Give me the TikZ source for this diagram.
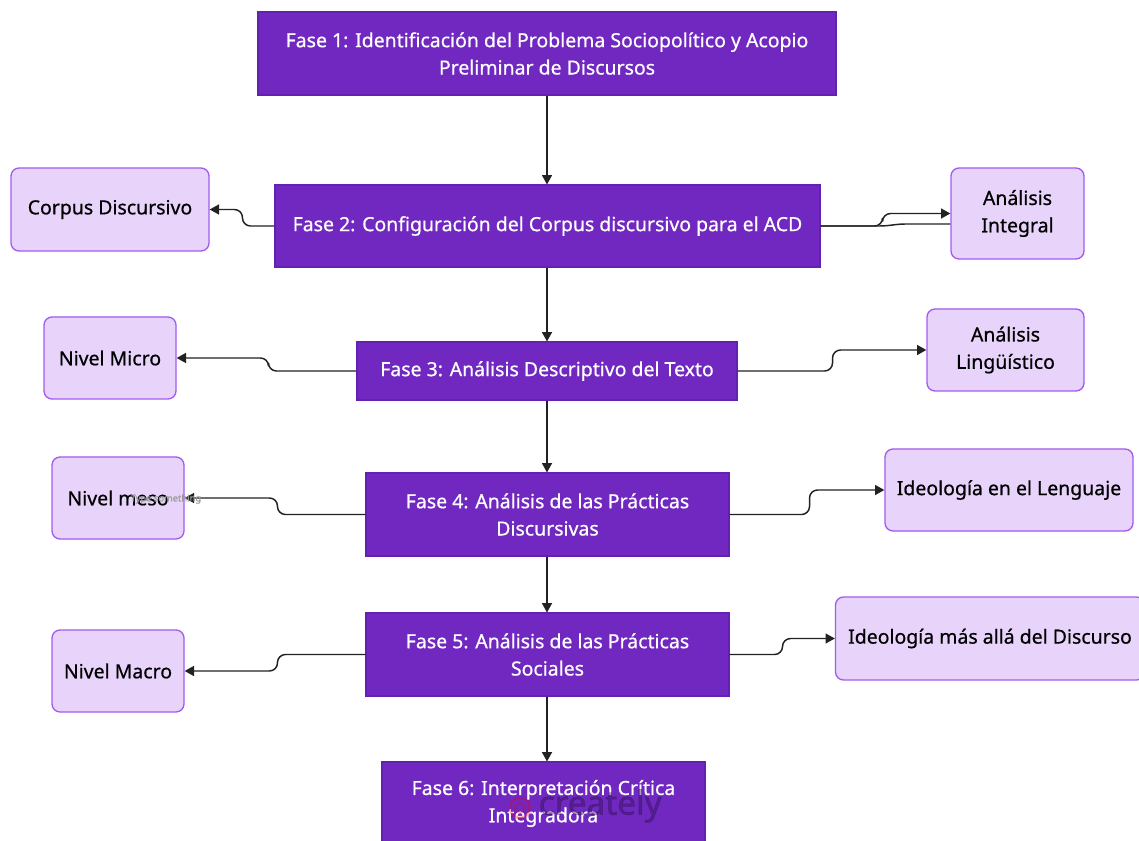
\documentclass[tikz,border=0pt]{standalone}
\usepackage{fontspec}
\setmainfont{Noto Sans}[FakeBold=0.6]
\newfontfamily\medfont{Noto Sans}[FakeBold=0.6]
\newfontfamily\wmfont{Noto Sans}[FakeBold=1.5]
\usetikzlibrary{arrows.meta,calc}
\definecolor{dpurple}{HTML}{7128C0}
\definecolor{dborder}{HTML}{6420B0}
\definecolor{lpurple}{HTML}{E8D4FA}
\definecolor{lborder}{HTML}{A25AEE}
\definecolor{lnk}{HTML}{222222}
\tikzset{
  phase/.style={draw=dborder, line width=0.8pt, fill=dpurple, text=white, align=center, inner sep=2pt, font=\medfont\fontsize{14.6}{20.5}\selectfont},
  leaf/.style={draw=lborder, line width=1pt, fill=lpurple, text=black, align=center, rounded corners=6pt, inner sep=2pt, font=\medfont\fontsize{14.6}{20.5}\selectfont},
  conn/.style={draw=lnk, line width=1.1pt, rounded corners=6pt, -{Triangle[length=7pt,width=7.5pt]}},
  plain/.style={draw=lnk, line width=1.1pt, rounded corners=5pt},
}
\begin{document}
\begin{tikzpicture}[x=0.75pt,y=-0.75pt]
\useasboundingbox (0,0) rectangle (1139,841);
\clip (0,0) rectangle (1139,841);
% phases
\node[phase, minimum width=433.5pt, minimum height=62.25pt] (f1) at (547,53.5) {Fase 1: Identificación del Problema Sociopolítico y Acopio\\Preliminar de Discursos};
\node[phase, minimum width=408.75pt, minimum height=61.5pt] (f2) at (547.5,226) {Fase 2: Configuración del Corpus discursivo para el ACD};
\node[phase, minimum width=285pt, minimum height=43.5pt] (f3) at (547,371) {Fase 3: Análisis Descriptivo del Texto};
\node[phase, minimum width=272.25pt, minimum height=62.25pt] (f4) at (547.5,514.5) {Fase 4: Análisis de las Prácticas\\Discursivas};
\node[phase, minimum width=272.25pt, minimum height=62.25pt] (f5) at (547.5,654.5) {Fase 5: Análisis de las Prácticas\\Sociales};
\node[phase, minimum width=242.25pt, minimum height=62.25pt] (f6) at (543.5,803.5) {Fase 6: Interpretación Crítica\\Integradora};
% leaves
\node[leaf, minimum width=148.5pt, minimum height=62.25pt] (corpus) at (110,209.5) {Corpus Discursivo};
\node[leaf, minimum width=99.75pt, minimum height=68.25pt] (aint) at (1017.5,213.5) {Análisis\\Integral};
\node[leaf, minimum width=99pt, minimum height=61.5pt] (micro) at (110,358) {Nivel Micro};
\node[leaf, minimum width=117.75pt, minimum height=61.5pt] (aling) at (1005.5,350) {Análisis\\Lingüístico};
\node[leaf, minimum width=99pt, minimum height=61.5pt] (meso) at (118,498) {Nivel meso};
\node[leaf, minimum width=186pt, minimum height=61.5pt] (ileng) at (1009,490) {Ideología en el Lenguaje};
\node[leaf, minimum width=231.75pt, minimum height=62.25pt] (imas) at (990,638.5) {Ideología más allá del Discurso};
\node[leaf, minimum width=99pt, minimum height=61.5pt] (macro) at (118,671) {Nivel Macro};
% vertical connectors
\draw[conn] (547,95) coordinate (c1) (f1.south -| c1) -- (f2.north -| c1);
\draw[conn] (f2.south -| c1) -- (f3.north -| c1);
\draw[conn] (f3.south -| c1) -- (f4.north -| c1);
\draw[conn] (f4.south -| c1) -- (f5.north -| c1);
\draw[conn] (f5.south -| c1) -- (f6.north -| c1);
% side connectors
\draw[conn] (f2.west) -- ++(-32,0) |- (corpus.east);
\draw[conn] (f2.east) -- ++(62,0) |- (aint.west);
\draw[plain] (f2.east) -- ++(66,0) -- ++(12,-2) -- ($(aint.west)+(0,10.5)$);
\draw[conn] (f3.west) -- ++(-88,0) |- (micro.east);
\draw[conn] (f3.east) -- ++(95,0) |- (aling.west);
\draw[conn] (f4.west) -- ++(-88,0) |- (meso.east);
\draw[conn] (f4.east) -- ++(80,0) |- (ileng.west);
\draw[conn] (f5.west) -- ++(-88,0) |- (macro.east);
\draw[conn] (f5.east) -- ++(53,0) |- (imas.west);
% faint artifacts
\node[text=gray!80, font=\fontsize{7}{8}\selectfont, anchor=west] (tsome) at (126,499) {Type something};
\draw[draw=red!60!purple, opacity=0.3, line width=2pt] (520,808) circle (10);
\draw[draw=red!60!purple, opacity=0.3, line width=1.5pt] (520,808) circle (5);
\node[text=dborder!45!black, opacity=0.4, font=\wmfont\fontsize{25}{28}\selectfont, anchor=west] (wm) at (534,806) {creately};
\end{tikzpicture}
\end{document}
